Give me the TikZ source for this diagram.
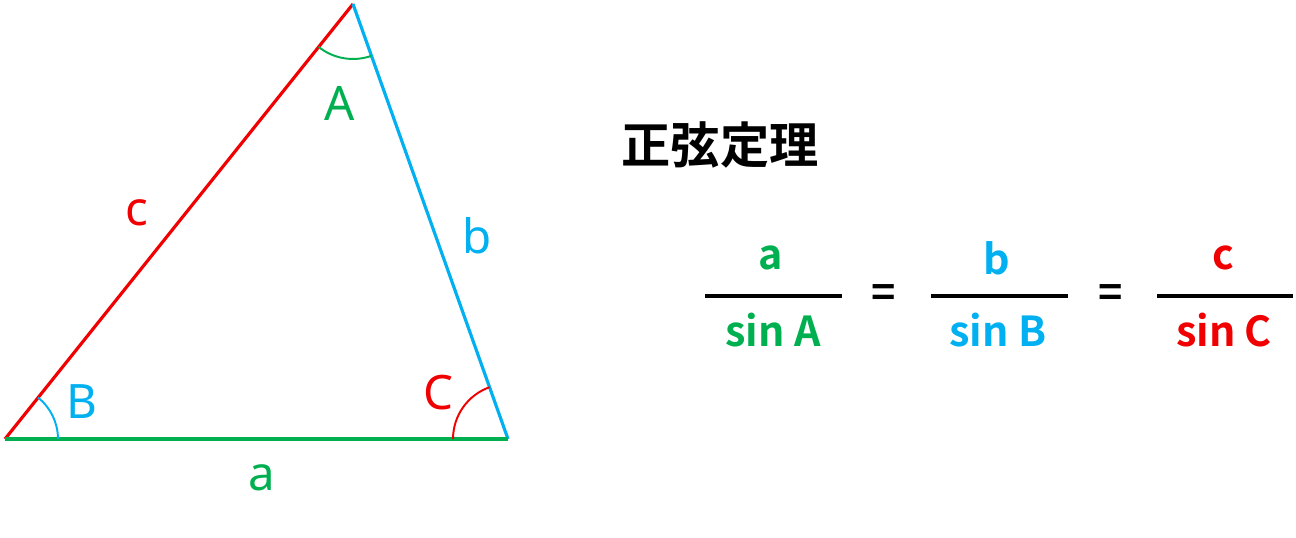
\documentclass[tikz,border=0pt]{standalone}
\usepackage{fontspec}
\setmainfont{Noto Sans}
\newfontfamily\cjkbold{Noto Sans CJK JP Bold}
\usetikzlibrary{angles}
\definecolor{cgreen}{HTML}{00B050}
\definecolor{cblue}{HTML}{00B0F0}
\definecolor{cred}{HTML}{F00000}
\begin{document}
\begin{tikzpicture}[x=0.02cm,y=0.02cm,
  side/.style={line width=1.8pt},
  angarc/.style={draw,line width=1.1pt,angle radius=1.1cm},
  lbl/.style={inner sep=0pt,font=\fontsize{27}{30}\selectfont},
  frac/.style={inner sep=0pt,font=\cjkbold\fontsize{23.5}{28}\selectfont},
  bar/.style={line width=1.8pt,black}]
\useasboundingbox (0,0) rectangle (1296,538);
\coordinate (B) at (5,99);
\coordinate (C) at (508,99);
\coordinate (A) at (353,534);
\draw[side,cred] (B) -- (A);
\draw[side,cblue] (A) -- (C);
\draw[side,cgreen] (B) -- (C);
\pic[angarc,cgreen] {angle = B--A--C};
\pic[angarc,cblue,angle radius=1.06cm] {angle = C--B--A};
\pic[angarc,cred] {angle = A--C--B};
\node[lbl,text=cgreen] (lA) at (340,435) {A};
\node[lbl,text=cblue] (lB) at (82,136) {B};
\node[lbl,text=cred] (lC) at (438,145) {C};
\node[lbl,text=cgreen] (la) at (262,60) {a};
\node[lbl,text=cblue] (lb) at (477,302) {b};
\node[lbl,text=cred] (lc) at (137,325) {c};
\node[inner sep=0pt,font=\cjkbold\fontsize{28}{32}\selectfont] (title) at (720,393) {正弦定理};
\node[frac,text=cgreen] (na) at (771,280) {a};
\node[frac,text=cblue] (nb) at (997,280) {b};
\node[frac,text=cred] (nc) at (1223,280) {c};
\node[frac,text=cgreen] (da) at (773,208) {sin A};
\node[frac,text=cblue] (db) at (998,208) {sin B};
\node[frac,text=cred] (dc) at (1224,208) {sin C};
\draw[bar] (705,242) -- (842,242);
\draw[bar] (931,242) -- (1068,242);
\draw[bar] (1157,242) -- (1293,242);
\node[frac] (eq1) at (884,242) {=};
\node[frac] (eq2) at (1111,242) {=};
\end{tikzpicture}
\end{document}
